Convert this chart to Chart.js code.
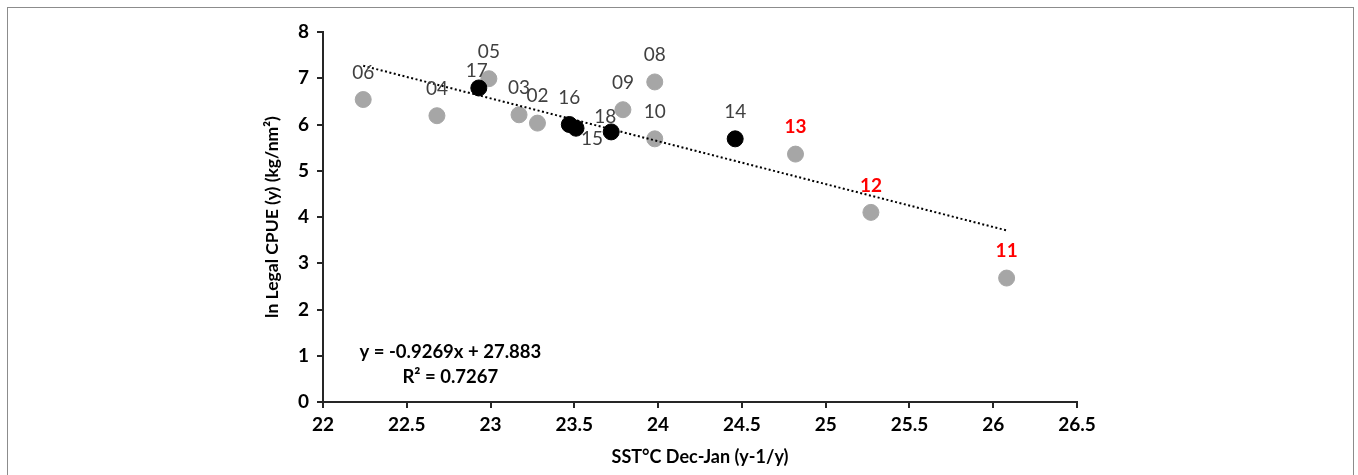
<!DOCTYPE html>
<html>
<head>
<meta charset="utf-8">
<script src="https://cdn.jsdelivr.net/npm/chart.js@4.4.1/dist/chart.umd.min.js"></script>
<style>
  html, body { margin: 0; padding: 0; background: #fff; overflow: hidden; }
  #wrap { position: relative; width: 1358px; height: 475px; }
  #frame { position: absolute; left: 7px; top: 7px; width: 1347px; height: 480px;
           border: 1.5px solid #8c8c8c; box-sizing: border-box; }
  #grafico { position: absolute; left: 0; top: 0; }
</style>
</head>
<body>
<div id="wrap">
  <div id="frame"></div>
  <canvas id="grafico" width="1358" height="475"></canvas>
</div>
<script>
// === Dados ===
// anos 02-10 (pontos cinza)
var anosCinza = ['02', '03', '04', '05', '06', '08', '09', '10'];
var sstCinza  = [23.28, 23.17, 22.68, 22.99, 22.24, 23.98, 23.79, 23.98];
var cpueCinza = [6.03, 6.21, 6.19, 6.99, 6.54, 6.92, 6.32, 5.69];

// anos 11-13 (pontos cinza, rótulo vermelho)
var anosVerm = ['11', '12', '13'];
var sstVerm  = [26.08, 25.27, 24.82];
var cpueVerm = [2.68, 4.10, 5.36];

// anos 14-18 (pontos pretos)
var anosPreto = ['14', '15', '16', '17', '18'];
var sstPreto  = [24.46, 23.51, 23.47, 22.93, 23.72];
var cpuePreto = [5.69, 5.92, 6.00, 6.79, 5.84];

// linha de tendência (extremos)
var tendX = [22.24, 26.08];
var tendY = [7.27, 3.71];

var xTicks = [22, 22.5, 23, 23.5, 24, 24.5, 25, 25.5, 26, 26.5];
var yTicks = [0, 1, 2, 3, 4, 5, 6, 7, 8];

var equacao = 'y = -0.9269x + 27.883';
var r2 = 'R\u00B2 = 0.7267';

function pontos(xs, ys) {
  return xs.map(function (x, i) { return { x: x, y: ys[i] }; });
}

var FONTE = 'Lato, "Open Sans", sans-serif';

// deslocamentos especiais dos rótulos (px)
var ajusteRotulo = { '15': [16, -11], '17': [-2, 17], '18': [-6, 15] };

var rotulosPlugin = {
  id: 'rotulos',
  afterDatasetsDraw: function (chart) {
    var ctx = chart.ctx;
    ctx.save();
    ctx.textAlign = 'center';
    ctx.textBaseline = 'middle';
    chart.data.datasets.forEach(function (ds, di) {
      if (!ds.rotulos) return;
      var meta = chart.getDatasetMeta(di);
      meta.data.forEach(function (el, i) {
        var txt = ds.rotulos[i];
        var aj = ajusteRotulo[txt] || [0, 27];
        ctx.fillStyle = ds.corRotulo;
        ctx.font = ds.pesoRotulo + ' 19px ' + FONTE;
        ctx.fillText(txt, el.x + aj[0], el.y - aj[1]);
      });
    });
    // equação
    var xs = chart.scales.x, ys = chart.scales.y;
    ctx.fillStyle = '#000';
    ctx.font = 'bold 18.5px ' + FONTE;
    ctx.fillText(equacao, xs.getPixelForValue(22.76), ys.getPixelForValue(1.09));
    ctx.fillText(r2, xs.getPixelForValue(22.76), ys.getPixelForValue(0.55));
    ctx.restore();
  }
};

var ctx = document.getElementById('grafico');
new Chart(ctx, {
  type: 'scatter',
  data: {
    datasets: [
      {
        label: 'Tendência',
        type: 'line',
        data: pontos(tendX, tendY),
        borderColor: '#000',
        borderWidth: 2,
        borderDash: [2, 2.5],
        pointRadius: 0,
        fill: false,
        order: 0
      },
      {
        label: '14-18',
        data: pontos(sstPreto, cpuePreto),
        backgroundColor: '#000',
        borderColor: '#000',
        pointRadius: 8,
        pointHoverRadius: 8,
        rotulos: anosPreto,
        corRotulo: '#404040',
        pesoRotulo: 'normal',
        order: 1
      },
      {
        label: '11-13',
        data: pontos(sstVerm, cpueVerm),
        backgroundColor: '#a6a6a6',
        borderColor: '#a6a6a6',
        pointRadius: 8,
        pointHoverRadius: 8,
        rotulos: anosVerm,
        corRotulo: '#ff0000',
        pesoRotulo: 'bold',
        order: 2
      },
      {
        label: '02-10',
        data: pontos(sstCinza, cpueCinza),
        backgroundColor: '#a6a6a6',
        borderColor: '#a6a6a6',
        pointRadius: 8,
        pointHoverRadius: 8,
        rotulos: anosCinza,
        corRotulo: '#404040',
        pesoRotulo: 'normal',
        order: 3
      }
    ]
  },
  options: {
    responsive: false,
    animation: false,
    layout: { padding: { left: 262, right: 281, top: 32, bottom: 5 } },
    plugins: {
      legend: { display: false },
      tooltip: { enabled: false }
    },
    scales: {
      x: {
        type: 'linear',
        min: 22, max: 26.5,
        afterBuildTicks: function (s) { s.ticks = xTicks.map(function (v) { return { value: v }; }); },
        afterFit: function (s) { s.height = 68; },
        grid: { display: true, drawOnChartArea: false, drawTicks: true, tickLength: 6, color: '#262626', lineWidth: 2 },
        border: { display: true, color: '#262626', width: 2 },
        ticks: { color: '#000', font: { family: FONTE, size: 19, weight: 'bold' }, padding: 5, maxRotation: 0,
                 callback: function (v) { return String(v); } },
        title: { display: true, text: 'SST°C Dec-Jan (y-1/y)', color: '#000',
                 font: { family: FONTE, size: 18, weight: 'bold' }, padding: { top: 0, bottom: 2 } }
      },
      y: {
        type: 'linear',
        min: 0, max: 8,
        afterBuildTicks: function (s) { s.ticks = yTicks.map(function (v) { return { value: v }; }); },
        afterFit: function (s) { s.width = 61; },
        grid: { display: true, drawOnChartArea: false, drawTicks: true, tickLength: 6, color: '#262626', lineWidth: 2 },
        border: { display: true, color: '#262626', width: 2 },
        ticks: { color: '#000', font: { family: FONTE, size: 19, weight: 'bold' }, padding: 8,
                 callback: function (v) { return String(v); } },
        title: { display: true, text: 'ln Legal CPUE (y) (kg/nm\u00B2)', color: '#000',
                 font: { family: FONTE, size: 17.5, weight: 'bold' }, padding: { top: 0, bottom: 0 } }
      }
    }
  },
  plugins: [rotulosPlugin]
});
</script>
</body>
</html>
